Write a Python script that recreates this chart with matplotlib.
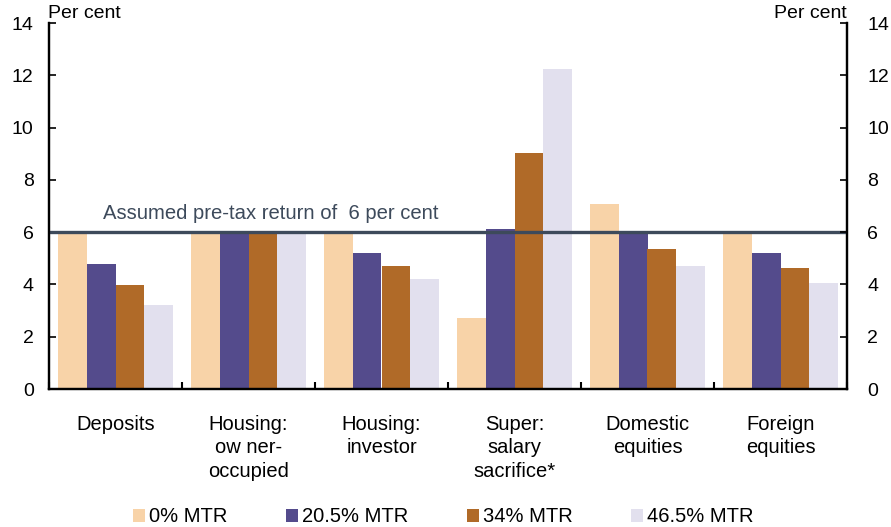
import numpy as np
import matplotlib.pyplot as plt
from matplotlib.patches import Patch

plt.rcParams['font.family'] = ['Liberation Sans', 'DejaVu Sans']

# Chart data (per cent)
categories = ['Deposits', 'Housing:\now ner-\noccupied', 'Housing:\ninvestor',
              'Super:\nsalary\nsacrifice*', 'Domestic\nequities', 'Foreign\nequities']
series_names = ['0% MTR', '20.5% MTR', '34% MTR', '46.5% MTR']
mtr_0 = [6.0, 6.0, 6.0, 2.7, 7.07, 6.0]
mtr_205 = [4.77, 6.0, 5.2, 6.13, 6.05, 5.2]
mtr_34 = [3.98, 6.0, 4.7, 9.02, 5.35, 4.63]
mtr_465 = [3.2, 6.0, 4.2, 12.25, 4.7, 4.05]
pre_tax_return = 6
colors = ['#F8D3A8', '#544B8C', '#B06A28', '#E2E0EE']
line_color = '#3D4A5B'

fig = plt.figure(figsize=(8.91, 5.27), dpi=100)
ax = fig.add_axes([49 / 891, (527 - 389) / 527, 798 / 891, 366 / 527])

x = np.arange(len(categories))
width = 0.216
all_series = [mtr_0, mtr_205, mtr_34, mtr_465]
for i, vals in enumerate(all_series):
    ax.bar(x + (i - 1.5) * width, vals, width, color=colors[i], zorder=2)

# pre-tax return line and its label
ax.axhline(pre_tax_return, color=line_color, lw=2.4, zorder=3)
ax.text(0.068, 6.72, 'Assumed pre-tax return of  6 per cent', transform=ax.get_yaxis_transform(),
        fontsize=14.6, color=line_color, va='center', ha='left')

ax.set_xlim(-0.5, len(categories) - 0.5)
ax.set_ylim(0, 14)
ax.set_yticks(range(0, 15, 2))

# group boundaries as major ticks, labels at group centres
ax.set_xticks(np.arange(-0.5, len(categories), 1.0))
ax.set_xticklabels([])
ax.set_xticks(x, minor=True)
ax.set_xticklabels(categories, minor=True, fontsize=14.5, linespacing=1.32, va='top')
ax.tick_params(axis='x', which='minor', length=0, pad=18.5)
ax.tick_params(axis='x', which='major', direction='in', length=5, width=1.5)
ax.tick_params(axis='y', direction='in', length=5, width=1.2, labelsize=14, pad=11)

# right hand axis
ax2 = ax.twinx()
ax2.set_ylim(0, 14)
ax2.set_yticks(range(0, 15, 2))
ax2.tick_params(axis='y', direction='in', length=5, width=1.2, labelsize=14, pad=14.5)

for a in (ax, ax2):
    a.spines['top'].set_visible(False)
    for s in ['left', 'right', 'bottom']:
        a.spines[s].set_linewidth(1.6)

fig.text(48 / 891, 1 - 13 / 527, 'Per cent', fontsize=14, va='center', ha='left')
fig.text(847 / 891, 1 - 13 / 527, 'Per cent', fontsize=14, va='center', ha='right')

handles = [Patch(facecolor=c) for c in colors]
fig.legend(handles, series_names, loc='center', bbox_to_anchor=(443.5 / 891, 1 - 517 / 527),
           ncol=4, frameon=False, fontsize=14.5, handlelength=0.6, handleheight=0.6,
           handletextpad=0.2, columnspacing=2.9, borderpad=0, borderaxespad=0)

fig.savefig('out.png', dpi=100)
